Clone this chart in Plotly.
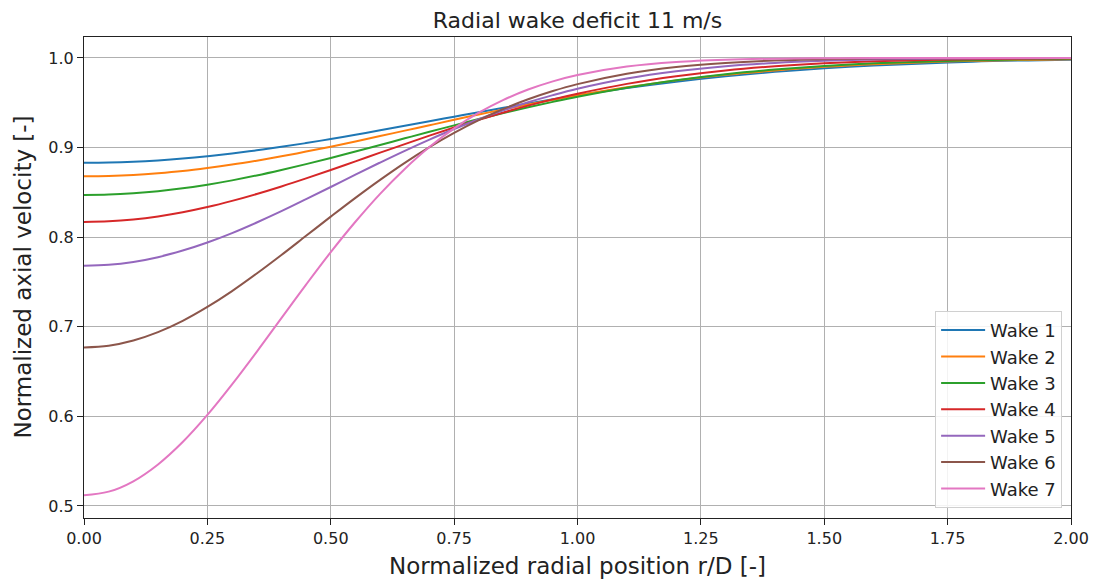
import plotly.graph_objects as go

r_over_D = [0.0, 0.05, 0.1, 0.15, 0.2, 0.25, 0.3, 0.35, 0.4, 0.45, 0.5, 0.55, 0.6, 0.65, 0.7, 0.75,
            0.8, 0.85, 0.9, 0.95, 1.0, 1.1, 1.2, 1.3, 1.4, 1.5, 1.6, 1.8, 2.0]

wake_1 = [0.883, 0.8833, 0.8842, 0.8857, 0.8877, 0.8903, 0.8934, 0.8969, 0.9008, 0.905, 0.9096, 0.9143, 0.9193, 0.9243,
          0.9294, 0.9345, 0.9395, 0.9444, 0.9492, 0.9539, 0.9583, 0.9664, 0.9735, 0.9795, 0.9845, 0.9885, 0.9916, 0.9959, 0.9981]
wake_2 = [0.868, 0.8684, 0.8695, 0.8714, 0.8739, 0.8772, 0.881, 0.8854, 0.8902, 0.8955, 0.901, 0.9068, 0.9128, 0.9189,
          0.9249, 0.931, 0.9369, 0.9426, 0.9481, 0.9533, 0.9583, 0.9673, 0.975, 0.9812, 0.986, 0.9901, 0.993, 0.9968, 0.9987]
wake_3 = [0.847, 0.8475, 0.849, 0.8513, 0.8545, 0.8586, 0.8634, 0.8689, 0.875, 0.8815, 0.8884, 0.8956, 0.9029, 0.9103,
          0.9176, 0.9248, 0.9318, 0.9386, 0.945, 0.951, 0.9567, 0.9668, 0.9752, 0.9819, 0.9871, 0.9911, 0.994, 0.9974, 0.999]
wake_4 = [0.817, 0.8177, 0.8198, 0.8232, 0.8278, 0.8336, 0.8405, 0.8482, 0.8566, 0.8656, 0.875, 0.8846, 0.8943, 0.9039,
          0.9133, 0.9224, 0.931, 0.9392, 0.9468, 0.9538, 0.9601, 0.9711, 0.9796, 0.9861, 0.9908, 0.9941, 0.9963, 0.9987, 0.9996]
wake_5 = [0.768, 0.7691, 0.7724, 0.7777, 0.7851, 0.7941, 0.8046, 0.8164, 0.829, 0.8424, 0.856, 0.8698, 0.8833, 0.8964,
          0.9089, 0.9207, 0.9316, 0.9416, 0.9506, 0.9585, 0.9656, 0.977, 0.9851, 0.9908, 0.9945, 0.9968, 0.9982, 0.9995, 0.9999]
wake_6 = [0.677, 0.6789, 0.6847, 0.694, 0.7066, 0.7221, 0.7398, 0.7594, 0.7801, 0.8015, 0.8229, 0.8439, 0.864, 0.883,
          0.9005, 0.9164, 0.9306, 0.9431, 0.9539, 0.9631, 0.9708, 0.9824, 0.9899, 0.9944, 0.9971, 0.9985, 0.9993, 0.9999, 1.0]
wake_7 = [0.512, 0.516, 0.5276, 0.5464, 0.5714, 0.6016, 0.6357, 0.6721, 0.7097, 0.7471, 0.7833, 0.8172, 0.8484, 0.8762,
          0.9006, 0.9214, 0.9389, 0.9532, 0.9648, 0.9739, 0.981, 0.9904, 0.9955, 0.998, 0.9992, 0.9997, 1.0, 1.0, 1.0]

series_names = ["Wake 1", "Wake 2", "Wake 3", "Wake 4", "Wake 5", "Wake 6", "Wake 7"]
series_values = [wake_1, wake_2, wake_3, wake_4, wake_5, wake_6, wake_7]
colors = ["#1f77b4", "#ff7f0e", "#2ca02c", "#d62728", "#9467bd", "#8c564b", "#e377c2"]

x_tick_vals = [0.0, 0.25, 0.5, 0.75, 1.0, 1.25, 1.5, 1.75, 2.0]
x_tick_text = ["0.00", "0.25", "0.50", "0.75", "1.00", "1.25", "1.50", "1.75", "2.00"]
y_tick_vals = [0.5, 0.6, 0.7, 0.8, 0.9, 1.0]
y_tick_text = ["0.5", "0.6", "0.7", "0.8", "0.9", "1.0"]

title_text = "Radial wake deficit 11 m/s"
x_label = "Normalized radial position r/D [-]"
y_label = "Normalized axial velocity [-]"

FONT = "DejaVu Sans"
TXT = "#222222"
W, H = 1093, 580
L, R, T, B = 84, 22, 37, 62

fig = go.Figure()
for name, vals, c in zip(series_names, series_values, colors):
    fig.add_trace(go.Scatter(
        x=r_over_D, y=vals, name=name, mode="lines",
        line=dict(color=c, width=2, shape="spline", smoothing=1.0),
    ))

axis_common = dict(
    showgrid=True, gridcolor="#b0b0b0", gridwidth=1,
    showline=True, linecolor="#222222", linewidth=1.2, mirror=True,
    ticks="outside", ticklen=6, tickcolor="#222222",
    tickfont=dict(family=FONT, size=16, color=TXT),
    zeroline=False, automargin=False,
)

fig.update_layout(
    width=W, height=H,
    paper_bgcolor="white", plot_bgcolor="white",
    margin=dict(l=L, r=R, t=T, b=B),
    title=dict(text=title_text, x=(L + (W - R)) / 2 / W, xanchor="center",
               y=1 - 20 / H, yanchor="middle",
               font=dict(family=FONT, size=22, color=TXT)),
    xaxis=dict(range=[0, 2.0], tickvals=x_tick_vals, ticktext=x_tick_text, **axis_common),
    yaxis=dict(range=[0.4866, 1.0234], tickvals=y_tick_vals, ticktext=y_tick_text, **axis_common),
    legend=dict(x=0.991, xanchor="right", y=0.021, yanchor="bottom",
                bgcolor="rgba(255,255,255,0.85)", bordercolor="#d0d0d0", borderwidth=1,
                font=dict(family=FONT, size=18, color=TXT),
                tracegroupgap=0, itemwidth=44),
    showlegend=True,
    annotations=[
        dict(text=x_label, xref="paper", yref="paper", x=0.5, y=-(566 - (H - B)) / (H - T - B),
             xanchor="center", yanchor="middle", showarrow=False,
             font=dict(family=FONT, size=23, color=TXT)),
        dict(text=y_label, xref="paper", yref="paper", x=-(L - 22) / (W - L - R), y=0.5,
             xanchor="center", yanchor="middle", showarrow=False, textangle=-90,
             font=dict(family=FONT, size=23, color=TXT)),
    ],
)

fig.write_html("out.html", config={"displayModeBar": False},
               post_script="document.body.style.margin='0px';document.body.style.overflow='hidden';")
